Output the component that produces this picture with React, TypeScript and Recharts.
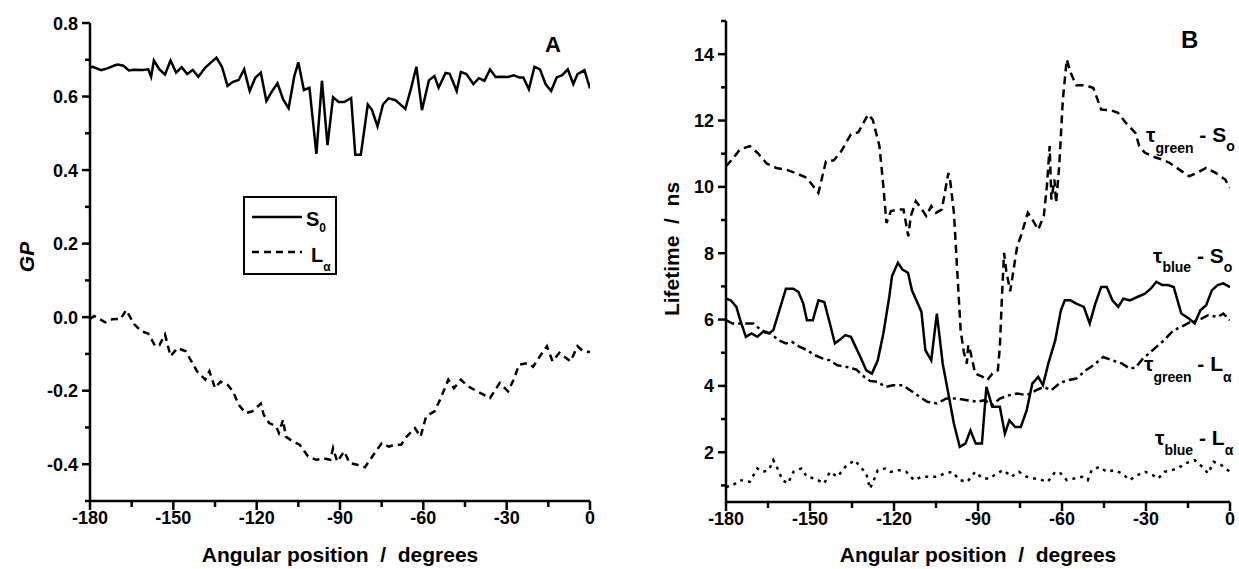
import React from 'react';
import { LineChart, Line, XAxis, YAxis } from 'recharts';

// angular scan, panel A: generalized polarization
const s0Angle = [-180, -179, -176, -174, -171, -170, -168, -166, -164, -161, -159, -158, -157, -155, -153, -151, -149, -147, -145, -143, -141, -138.5, -134.5, -132.5, -130.5, -128.5, -126.5, -124.5, -122.5, -120.5, -118.5, -116.5, -114.5, -112.5, -110.5, -108.5, -106.5, -105, -103, -101, -98.5, -96.5, -94.5, -92.5, -90.5, -88.5, -86, -84.5, -82.5, -80, -78.5, -76.5, -74.5, -72.5, -70, -68.5, -66.5, -64.5, -62.5, -60.5, -58, -56, -54.5, -52, -50.5, -48, -46.5, -44.5, -42, -40, -38, -36, -34, -32, -29.5, -27.5, -25.5, -24, -22, -20, -18, -16, -14, -12, -10, -8, -6, -4.5, -2, 0];
const s0Gp = [0.679, 0.681, 0.672, 0.676, 0.685, 0.687, 0.684, 0.671, 0.673, 0.672, 0.674, 0.654, 0.698, 0.674, 0.66, 0.698, 0.665, 0.68, 0.661, 0.672, 0.654, 0.679, 0.706, 0.681, 0.629, 0.64, 0.645, 0.674, 0.615, 0.651, 0.665, 0.588, 0.614, 0.636, 0.593, 0.568, 0.654, 0.693, 0.618, 0.624, 0.444, 0.643, 0.468, 0.598, 0.585, 0.585, 0.596, 0.442, 0.442, 0.578, 0.564, 0.519, 0.579, 0.595, 0.59, 0.58, 0.566, 0.62, 0.681, 0.563, 0.644, 0.656, 0.624, 0.664, 0.662, 0.615, 0.667, 0.661, 0.634, 0.65, 0.643, 0.674, 0.653, 0.654, 0.653, 0.658, 0.652, 0.652, 0.62, 0.681, 0.674, 0.634, 0.615, 0.652, 0.658, 0.674, 0.634, 0.661, 0.672, 0.622];

const laAngle = [-180, -178.5, -174.5, -172, -169, -167, -164, -161.5, -159, -156.5, -155, -153, -151, -148.5, -145.5, -143.5, -141.5, -138.5, -137, -135, -133, -130.5, -128.5, -126.5, -124, -121.5, -118.5, -117.5, -115.5, -113, -112, -110.5, -109.5, -107, -104.5, -101.5, -98.5, -96, -93.5, -92.5, -91, -88.5, -86.5, -83.5, -81, -78, -75, -72.5, -70, -68, -66, -63, -61, -59, -56, -54, -51, -49, -46.5, -44, -40.5, -36, -32.5, -29.5, -27.5, -25.5, -22.5, -20.5, -18, -15.5, -13.5, -11, -9.5, -7, -4.5, -2.5, 0];
const laGp = [-0.005, 0.003, -0.014, -0.006, -0.005, 0.019, -0.02, -0.038, -0.045, -0.079, -0.076, -0.047, -0.106, -0.084, -0.093, -0.12, -0.147, -0.17, -0.147, -0.193, -0.175, -0.184, -0.202, -0.238, -0.261, -0.256, -0.235, -0.265, -0.288, -0.297, -0.315, -0.279, -0.325, -0.338, -0.347, -0.379, -0.388, -0.384, -0.388, -0.356, -0.393, -0.365, -0.397, -0.402, -0.408, -0.375, -0.343, -0.352, -0.347, -0.347, -0.325, -0.302, -0.325, -0.27, -0.256, -0.225, -0.17, -0.193, -0.17, -0.188, -0.202, -0.22, -0.179, -0.202, -0.17, -0.129, -0.125, -0.135, -0.106, -0.079, -0.12, -0.097, -0.106, -0.12, -0.079, -0.093, -0.095];

// panel B: lifetimes (ns)
const greenSoAngle = [-180, -177.7, -175, -171.5, -168.8, -165.4, -162, -158.6, -155.2, -151.1, -147, -144.3, -141.5, -138.8, -135.4, -132.7, -129.3, -127.6, -125.2, -123.8, -122.7, -121.1, -118.6, -116.6, -114.9, -114, -112.2, -110.4, -108.5, -106.7, -105, -102.9, -100.6, -99.9, -98.6, -96.2, -95.1, -94, -93.5, -92.7, -91, -88.3, -86.7, -84.9, -82.9, -82.2, -81.5, -80.7, -79.9, -78.5, -76, -74.7, -72.2, -70.6, -68.5, -66.5, -65.4, -64.4, -63.8, -62.7, -62.1, -61, -59.7, -58.3, -56.9, -54.9, -51.5, -48.8, -46, -42.6, -40, -37.2, -33.8, -32.4, -30.4, -27.7, -24.2, -21.5, -18.1, -14.6, -11.9, -8.5, -5.1, -1.7, 0];
const greenSo = [10.62, 10.84, 11.13, 11.23, 11.03, 10.7, 10.57, 10.52, 10.42, 10.27, 9.82, 10.77, 10.8, 11.08, 11.58, 11.65, 12.18, 12.03, 11.23, 10.02, 8.91, 9.27, 9.32, 9.32, 8.51, 9.12, 9.57, 9.37, 9.12, 9.42, 9.22, 9.32, 10.42, 10.17, 9.22, 5.68, 5.03, 4.67, 5.23, 5.03, 4.37, 4.27, 4.17, 4.37, 4.47, 5.18, 6.58, 8.01, 7.46, 6.85, 8.21, 8.51, 9.22, 9.02, 8.71, 9.12, 10.02, 11.23, 9.62, 10.22, 9.52, 10.62, 12.63, 13.84, 13.44, 13.06, 13.06, 12.98, 12.33, 12.31, 12.23, 11.93, 11.63, 11.23, 11.03, 10.92, 10.82, 10.72, 10.52, 10.32, 10.42, 10.57, 10.42, 10.22, 9.97];

const blueSoAngle = [-180, -178.3, -176.3, -174.9, -172.9, -170.9, -168.8, -166.8, -164.7, -163.1, -161.3, -158.6, -155.9, -154.1, -152.4, -151.1, -149, -147, -144.9, -142.9, -141.1, -139.5, -137.4, -135.4, -134, -132, -129.9, -127.9, -125.8, -123.8, -121.7, -120.7, -118.6, -117, -115, -113.6, -110.2, -108.8, -106.7, -104.7, -102.6, -100.6, -98.6, -96.5, -94.5, -92.7, -90.8, -88.6, -87, -84.9, -82.2, -80.4, -78.8, -76.7, -74.7, -72.6, -70.6, -68.5, -66.8, -64.9, -62.4, -60.4, -59, -57, -54.9, -52.2, -50.1, -48.1, -46, -44, -42, -39.9, -38.1, -35.8, -33.1, -30.4, -28.3, -26.3, -24.2, -22.2, -20.1, -17.4, -14.7, -12.6, -10.6, -8.5, -6.5, -4.4, -2.4, 0];
const blueSo = [6.63, 6.58, 6.38, 5.98, 5.48, 5.58, 5.48, 5.63, 5.58, 5.68, 6.18, 6.93, 6.93, 6.83, 6.48, 5.98, 5.98, 6.58, 6.53, 5.88, 5.28, 5.38, 5.53, 5.48, 5.23, 4.87, 4.47, 4.37, 4.77, 5.58, 6.68, 7.31, 7.71, 7.51, 7.41, 6.88, 6.23, 5.08, 4.77, 6.18, 4.67, 3.77, 2.86, 2.16, 2.26, 2.66, 2.26, 2.26, 3.97, 3.37, 3.37, 2.56, 2.96, 2.76, 2.76, 3.27, 4.07, 4.27, 4.02, 4.67, 5.38, 6.28, 6.58, 6.58, 6.48, 6.38, 5.88, 6.48, 6.98, 6.98, 6.58, 6.38, 6.63, 6.58, 6.68, 6.78, 6.93, 7.14, 7.04, 7.04, 6.98, 6.18, 6.03, 5.88, 6.28, 6.43, 6.88, 7.04, 7.09, 6.98];

const greenLaAngle = [-180, -177.7, -174.3, -170.2, -167.5, -164, -161.3, -158.6, -156.5, -153.8, -151.1, -148.4, -145.6, -142.9, -140.2, -136.8, -133.4, -130.6, -128.6, -125.8, -123.1, -120.4, -117, -114.2, -110.8, -108.1, -104.7, -101.3, -97.8, -93.8, -90.4, -87.6, -84.9, -82.2, -78.8, -76, -72.6, -69.2, -66.5, -63.8, -61, -58.3, -54.9, -51.5, -48.8, -45.3, -42, -38.5, -35.8, -33.8, -31.1, -27.6, -23.5, -20.1, -17.4, -14, -11.2, -7.8, -4.4, -2.4, 0];
const greenLa = [5.98, 5.88, 5.88, 5.88, 5.68, 5.58, 5.38, 5.28, 5.33, 5.18, 5.08, 4.93, 4.83, 4.77, 4.62, 4.57, 4.49, 4.27, 4.15, 4.12, 3.97, 4.02, 4.02, 3.87, 3.67, 3.52, 3.47, 3.62, 3.62, 3.57, 3.52, 3.57, 3.42, 3.62, 3.72, 3.77, 3.72, 3.87, 3.97, 3.87, 4.07, 4.17, 4.22, 4.47, 4.62, 4.87, 4.77, 4.67, 4.52, 4.55, 4.82, 5.08, 5.38, 5.68, 5.78, 5.93, 5.98, 6.13, 6.08, 6.18, 5.98];

const blueLaAngle = [-180, -177.7, -175, -171.5, -168.8, -166.8, -164.7, -163.1, -161.3, -159.9, -157.9, -155.9, -153.1, -151.1, -148.4, -144.9, -142.9, -140.2, -137.4, -134, -132, -129.9, -128.6, -127.2, -125.8, -123.1, -121.1, -118.3, -115.6, -112.9, -110.2, -107.4, -104.7, -102, -99.2, -96.5, -93.8, -91, -88.3, -85.6, -83.5, -80.8, -78.1, -75.4, -72.6, -69.9, -67.2, -65.1, -62.4, -60.4, -58.3, -55.6, -52.9, -50.8, -49.4, -46.7, -44, -41.3, -38.5, -35.8, -33.1, -30.3, -27.6, -25.6, -23.5, -20.8, -18.7, -16, -12.6, -9.9, -7.8, -5.8, -3.1, 0];
const blueLa = [0.95, 1.0, 1.16, 1.11, 1.51, 1.41, 1.46, 1.76, 1.46, 1.16, 1.06, 1.41, 1.51, 1.26, 1.21, 1.06, 1.41, 1.26, 1.56, 1.76, 1.56, 1.36, 0.9, 1.16, 1.46, 1.51, 1.41, 1.46, 1.41, 1.16, 1.26, 1.26, 1.26, 1.36, 1.41, 1.16, 1.11, 1.41, 1.21, 1.21, 1.36, 1.46, 1.26, 1.41, 1.26, 1.21, 1.16, 1.11, 1.41, 1.36, 1.16, 1.21, 1.26, 1.16, 1.46, 1.56, 1.41, 1.46, 1.36, 1.16, 1.31, 1.41, 1.31, 1.21, 1.41, 1.46, 1.51, 1.66, 1.76, 1.56, 1.36, 1.71, 1.61, 1.41];

const angleTicks = [-180, -165, -150, -135, -120, -105, -90, -75, -60, -45, -30, -15, 0];
const gpTicks = [-0.5, -0.4, -0.3, -0.2, -0.1, 0, 0.1, 0.2, 0.3, 0.4, 0.5, 0.6, 0.7, 0.8];
const lifetimeTicks = [1, 2, 3, 4, 5, 6, 7, 8, 9, 10, 11, 12, 13, 14, 15];

const FONT = "'Liberation Sans', Arial, Helvetica, sans-serif";
const AXIS_W = 2.5;

const toPoints = (xs: number[], ys: number[]) => xs.map((x, i) => ({ x, y: ys[i] }));

const AngleTick = (props: any) => {
  const { x, y, payload } = props;
  const v = payload.value;
  const major = v % 30 === 0;
  return (
    <g>
      <line x1={x} x2={x} y1={y} y2={y + (major ? 9 : 6)} stroke="#000" strokeWidth={AXIS_W} />
      {major && (
        <text x={x} y={y + 23} textAnchor="middle" fontFamily={FONT} fontWeight={700} fontSize={18} fill="#000">
          {v}
        </text>
      )}
    </g>
  );
};

const makeYTick = (isMajor: (v: number) => boolean, fmt: (v: number) => string) => (props: any) => {
  const { x, y, payload } = props;
  const v = payload.value;
  const major = isMajor(v);
  return (
    <g>
      <line x1={x - (major ? 8 : 5)} x2={x} y1={y} y2={y} stroke="#000" strokeWidth={AXIS_W} />
      {major && (
        <text x={x - 12} y={y + 6.5} textAnchor="end" fontFamily={FONT} fontWeight={700} fontSize={18} fill="#000">
          {fmt(v)}
        </text>
      )}
    </g>
  );
};

const GpTick = makeYTick((v) => Math.round(v * 10) % 2 === 0, (v) => v.toFixed(1));
const LifetimeTick = makeYTick((v) => v % 2 === 0, (v) => String(v));

const axisLine = { stroke: '#000', strokeWidth: AXIS_W };

export default function App() {
  return (
    <div style={{ position: 'absolute', left: 0, top: 0, width: 1239, height: 569, background: '#fff', overflow: 'hidden' }}>
      <div style={{ position: 'absolute', left: 0, top: 0 }}>
        <LineChart width={620} height={569} margin={{ top: 23, right: 30, bottom: 0, left: 0 }}>
          <XAxis type="number" dataKey="x" domain={[-180, 0]} ticks={angleTicks} interval={0} height={68}
            tickSize={0} tickMargin={0} tickLine={false} axisLine={axisLine} tick={AngleTick} allowDataOverflow />
          <YAxis type="number" dataKey="y" domain={[-0.5, 0.8]} ticks={gpTicks} interval={0} width={90}
            tickSize={0} tickMargin={0} tickLine={false} axisLine={axisLine} tick={GpTick} allowDataOverflow />
          <Line data={toPoints(s0Angle, s0Gp)} dataKey="y" stroke="#000" strokeWidth={2.5} dot={false} isAnimationActive={false} />
          <Line data={toPoints(laAngle, laGp)} dataKey="y" stroke="#000" strokeWidth={2.5} strokeDasharray="7 5" dot={false} isAnimationActive={false} />
        </LineChart>
      </div>
      <div style={{ position: 'absolute', left: 620, top: 0 }}>
        <LineChart width={619} height={569} margin={{ top: 21, right: 9, bottom: 0, left: 0 }}>
          <XAxis type="number" dataKey="x" domain={[-180, 0]} ticks={angleTicks} interval={0} height={67}
            tickSize={0} tickMargin={0} tickLine={false} axisLine={axisLine} tick={AngleTick} allowDataOverflow />
          <YAxis type="number" dataKey="y" domain={[0.5, 15]} ticks={lifetimeTicks} interval={0} width={106}
            tickSize={0} tickMargin={0} tickLine={false} axisLine={axisLine} tick={LifetimeTick} allowDataOverflow />
          <Line data={toPoints(greenSoAngle, greenSo)} dataKey="y" stroke="#000" strokeWidth={2.5} strokeDasharray="8 5" dot={false} isAnimationActive={false} />
          <Line data={toPoints(blueSoAngle, blueSo)} dataKey="y" stroke="#000" strokeWidth={2.5} dot={false} isAnimationActive={false} />
          <Line data={toPoints(greenLaAngle, greenLa)} dataKey="y" stroke="#000" strokeWidth={2.5} strokeDasharray="9 4 3 4" dot={false} isAnimationActive={false} />
          <Line data={toPoints(blueLaAngle, blueLa)} dataKey="y" stroke="#000" strokeWidth={2.5} strokeDasharray="3 5" dot={false} isAnimationActive={false} />
        </LineChart>
      </div>

      {/* titles, panel letters, legend and curve labels */}
      <svg width={1239} height={569} style={{ position: 'absolute', left: 0, top: 0, pointerEvents: 'none' }}
        fontFamily={FONT} fontWeight={700} fill="#000">
        <text x={545} y={52} fontSize={22}>A</text>
        <text x={1181} y={48} fontSize={24}>B</text>

        <text x={34} y={257} fontSize={21} fontStyle="italic" textAnchor="middle" transform="rotate(-90 34 257)">GP</text>
        <text x={679} y={249} fontSize={21} textAnchor="middle" transform="rotate(-90 679 249)" xmlSpace="preserve">Lifetime  /  ns</text>

        <text x={340} y={562} fontSize={21} textAnchor="middle" xmlSpace="preserve">Angular position  /  degrees</text>
        <text x={978} y={562} fontSize={21} textAnchor="middle" xmlSpace="preserve">Angular position  /  degrees</text>

        <rect x={244} y={197} width={92} height={77} fill="#fff" stroke="#000" strokeWidth={2} />
        <line x1={252} x2={302} y1={217} y2={217} stroke="#000" strokeWidth={2.5} />
        <text x={306} y={226} fontSize={20}>S<tspan fontSize={12} dy={6}>0</tspan></text>
        <line x1={252} x2={302} y1={252} y2={252} stroke="#000" strokeWidth={2.5} strokeDasharray="7 5" />
        <text x={311} y={262} fontSize={20}>L<tspan fontSize={12} dy={9}>α</tspan></text>

        <text x={1146} y={142} fontSize={21} xmlSpace="preserve">τ<tspan fontSize={14} dy={11}>green</tspan><tspan dy={-11}> - S</tspan><tspan fontSize={14} dy={9}>o</tspan></text>
        <text x={1153} y={263} fontSize={21} xmlSpace="preserve">τ<tspan fontSize={14} dy={9}>blue</tspan><tspan dy={-9}> - S</tspan><tspan fontSize={14} dy={9}>o</tspan></text>
        <text x={1144} y={371} fontSize={21} xmlSpace="preserve">τ<tspan fontSize={14} dy={11}>green</tspan><tspan dy={-11}> - L</tspan><tspan fontSize={14} dy={11}>α</tspan></text>
        <text x={1155} y={445} fontSize={21} xmlSpace="preserve">τ<tspan fontSize={14} dy={10}>blue</tspan><tspan dy={-10}> - L</tspan><tspan fontSize={14} dy={10}>α</tspan></text>
      </svg>
    </div>
  );
}
